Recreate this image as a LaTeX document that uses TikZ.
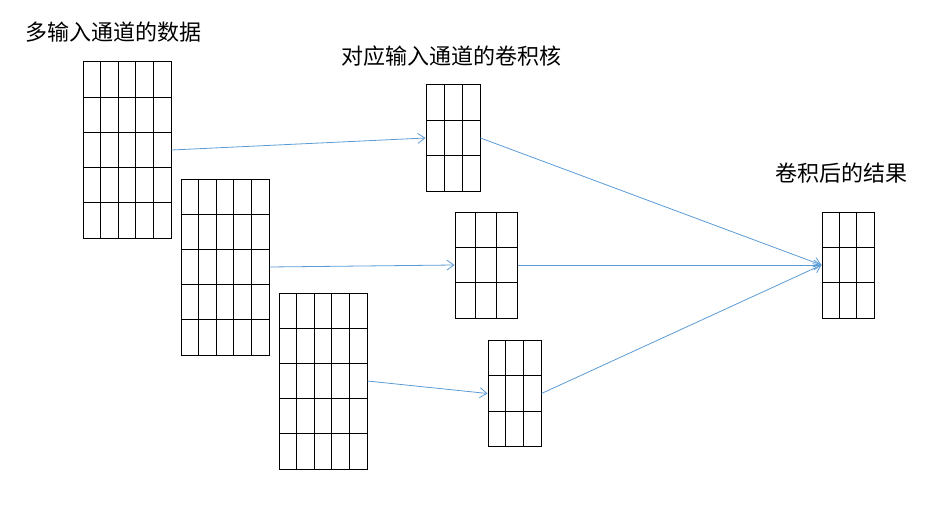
\documentclass[tikz,border=0pt]{standalone}
\usepackage{fontspec}
\newfontfamily\cjk{Noto Sans CJK SC}
\usepackage{tikz}
\usetikzlibrary{arrows.meta, calc}

\begin{document}
\begin{tikzpicture}[
  x=1pt, y=-1pt,
  cellgrid/.style 2 args = {draw=black, line width=1pt, inner sep=0pt,
                  path picture={
                    \foreach \c in {1,...,#1}{
                      \draw[line width=1pt]
                        ($(path picture bounding box.north west)!{\c/#1}!(path picture bounding box.north east)$) --
                        ($(path picture bounding box.south west)!{\c/#1}!(path picture bounding box.south east)$);
                    }
                    \foreach \r in {1,...,#2}{
                      \draw[line width=1pt]
                        ($(path picture bounding box.north west)!{\r/#2}!(path picture bounding box.south west)$) --
                        ($(path picture bounding box.north east)!{\r/#2}!(path picture bounding box.south east)$);
                    }
                  }},
  inmat/.style   = {cellgrid={5}{5}, minimum width=88pt, minimum height=176pt},
  kmat/.style    = {cellgrid={3}{3}, minimum width=#1, minimum height=106pt},
  conn/.style    = {draw=arrowblue, line width=0.8pt,
                    -{Straight Barb[length=7pt, width=10pt]}},
  title/.style   = {font=\cjk\fontsize{22}{26}\selectfont, inner sep=0pt},
]
\definecolor{arrowblue}{HTML}{5B9BD5}
\useasboundingbox (0,0) rectangle (949,505);

%% input channels
\node[inmat] (in1) at (127,150) {};
\node[inmat] (in2) at (225,267) {};
\node[inmat] (in3) at (323,381) {};

%% kernels, one per input channel
\node[kmat=54pt] (k1) at (453,138) {};
\node[kmat=62pt] (k2) at (486,265) {};
\node[kmat=53pt] (k3) at (514.5,393.5) {};

%% output
\node[kmat=52pt] (out) at (848,265) {};

%% titles
\node[title] (tin)  at (113,32)  {多输入通道的数据};
\node[title] (tk)   at (451,56)  {对应输入通道的卷积核};
\node[title] (tout) at (841,173) {卷积后的结果};

%% connectors
\foreach \i in {1,2,3}{
  \draw[conn] (in\i.east) -- (k\i.west);
  \draw[conn] (k\i.east) -- (out.west);
}

\end{tikzpicture}
\end{document}
